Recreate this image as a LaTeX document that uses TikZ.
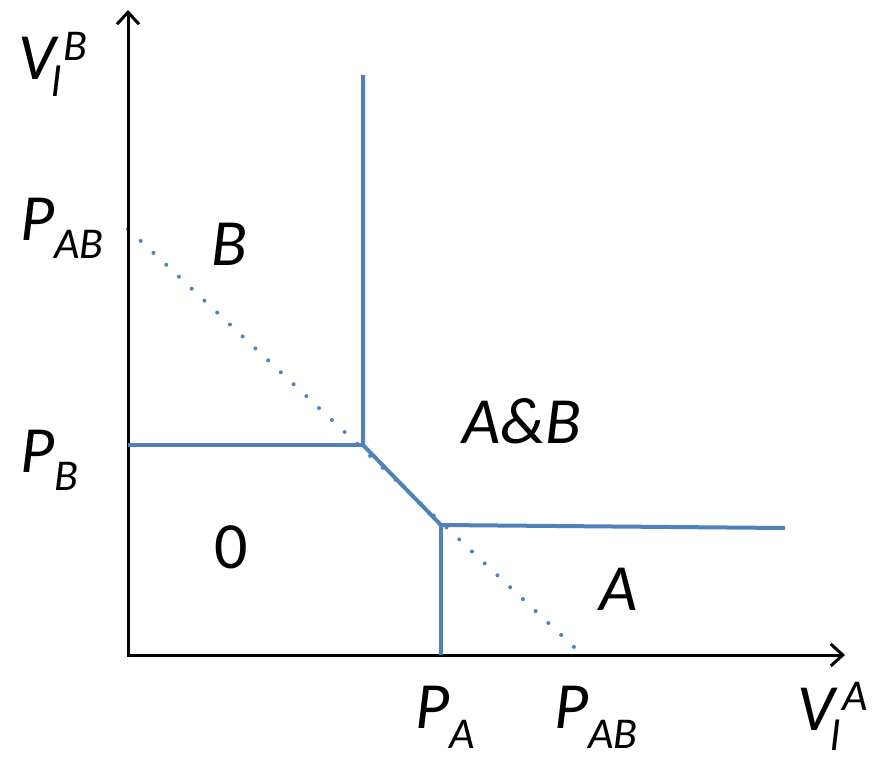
\documentclass[tikz,border=0pt]{standalone}
\usepackage{fontspec}
\setmainfont{Carlito}
\usetikzlibrary{arrows.meta}
\definecolor{officeblue}{RGB}{79,129,189}
\newcommand\lowtxt[2]{\raisebox{#1}{\fontsize{44}{44}\selectfont #2}}
\newcommand\bigfont{\fontsize{66}{66}\selectfont\itshape}
\tikzset{
  axis/.style={line width=3pt,black,{Straight Barb[length=12pt,width=22pt]}-{Straight Barb[length=12pt,width=22pt]}},
  bluel/.style={line width=4pt,officeblue},
  dotl/.style={line width=4pt,officeblue,line cap=round,dash pattern=on 0pt off 17.46pt},
  lbl/.style={inner sep=0pt,anchor=base west,font=\bigfont},
  region/.style={inner sep=0pt,anchor=base,font=\bigfont}
}
\begin{document}
\begin{tikzpicture}[x=1pt,y=-1pt]
\useasboundingbox (0,0) rectangle (886,768);
\coordinate (O) at (128,655);
\coordinate (Ytop) at (128,10);
\coordinate (Xend) at (845,655);
\coordinate (PB) at (128,445);
\coordinate (K1) at (363,445);
\coordinate (Top) at (363,75);
\coordinate (K2) at (441,525);
\coordinate (PA) at (441,655);
\coordinate (Rend) at (785,528);
\coordinate (PABy) at (128,229);
\coordinate (PABx) at (574,647);
% dotted budget line
\draw[dotl] (PABy) -- (PABx);
% axes
\draw[axis] (Ytop) -- (O) -- (Xend);
% region boundaries
\draw[bluel] (PB) -- (K1);
\draw[bluel] (Top) -- (K1) -- (K2) -- (Rend);
\draw[bluel] (K2) -- (PA);
% axis labels
\node[lbl] (vb) at (18,80) {V\lowtxt{-17pt}{\kern-4pt l}\lowtxt{20pt}{\kern2pt B}};
\node[lbl] (pab1) at (20,240) {P\lowtxt{-18pt}{AB}};
\node[lbl] (pb) at (20,472) {P\lowtxt{-18pt}{B}};
\node[lbl] (pa) at (415,728) {P\lowtxt{-20pt}{A}};
\node[lbl] (pab2) at (554,728) {P\lowtxt{-20pt}{AB}};
\node[lbl] (va) at (797,730) {V\lowtxt{-20pt}{\kern-4pt l}\lowtxt{20pt}{\kern2pt A}};
% region labels
\node[region] (rB) at (229,265) {B};
\node[region] (rAB) at (522,443) {A\&B};
\node[region] (r0) at (231,568) {\upshape 0};
\node[region] (rA) at (619,610) {A};
\end{tikzpicture}
\end{document}
